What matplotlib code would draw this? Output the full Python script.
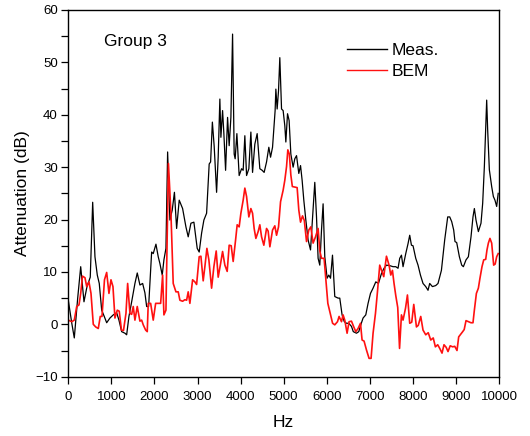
import matplotlib
matplotlib.use("Agg")
import matplotlib.pyplot as plt
from matplotlib.ticker import MultipleLocator

plt.rcParams['font.family'] = ['Liberation Sans', 'DejaVu Sans']

# ---- data ----
meas_hz = [0, 79, 139, 218, 288, 364, 434, 510, 566, 619, 673, 719, 775, 835, 891, 967,
           1044, 1123, 1176, 1239, 1315, 1355, 1408, 1471, 1547, 1601, 1663, 1726, 1779,
           1819, 1865, 1935, 1972, 2035, 2088, 2127, 2181, 2220, 2267, 2306, 2359, 2413,
           2464, 2515, 2575, 2654, 2731, 2784, 2847, 2916, 2993, 3039, 3095, 3148, 3211,
           3271, 3304, 3345, 3387, 3443, 3480, 3519, 3543, 3582, 3612, 3652, 3698, 3735,
           3775, 3814, 3851, 3874, 3914, 3967, 4023, 4060, 4099, 4139, 4192, 4239, 4278,
           4331, 4385, 4447, 4501, 4547, 4603, 4656, 4696, 4742, 4802, 4819, 4849, 4881,
           4911, 4951, 4988, 5027, 5051, 5090, 5127, 5167, 5220, 5259, 5299, 5352, 5392,
           5429, 5468, 5515, 5568, 5624, 5670, 5723, 5763, 5800, 5839, 5879, 5916, 5955,
           6009, 6048, 6088, 6134, 6187, 6264, 6303, 6357, 6408, 6459, 6512, 6575, 6617,
           6691, 6744, 6791, 6844, 6907, 6960, 7016, 7076, 7139, 7201, 7271, 7331, 7387,
           7463, 7540, 7603, 7656, 7695, 7735, 7772, 7835, 7888, 7927, 7967, 8004, 8067,
           8120, 8176, 8236, 8299, 8352, 8391, 8454, 8531, 8584, 8663, 8739, 8809, 8856,
           8902, 8948, 8978, 9018, 9080, 9134, 9173, 9234, 9289, 9350, 9396, 9428, 9466,
           9521, 9582, 9621, 9660, 9714, 9737, 9776, 9830, 9869, 9906, 9946, 9981]
meas_db = [4.6, 0.3, -2.6, 5.0, 11.0, 4.3, 7.2, 9.0, 23.3, 12.9, 9.4, 7.8, 2.7, 1.5, 0.3, 1.2,
           1.8, 2.2, 0.8, -1.4, -1.7, -2.0, 1.5, 4.3, 7.8, 9.8, 7.5, 7.8, 6.0,
           3.4, 3.4, 13.8, 13.5, 15.3, 12.9, 11.6, 9.4, 12.3, 14.5, 32.9, 19.9, 21.8,
           25.2, 18.3, 23.7, 22.1, 18.6, 16.7, 19.3, 19.5, 14.5, 13.8, 17.4, 19.9, 21.2,
           30.6, 31.0, 38.6, 34.0, 25.2, 31.9, 43.0, 35.7, 40.8, 36.4, 29.4, 39.5, 34.1,
           39.5, 55.4, 32.5, 31.6, 36.4, 28.4, 29.7, 29.4, 36.0, 28.4, 29.7, 36.7, 29.0,
           34.4, 36.4, 29.7, 29.4, 29.0, 31.0, 33.8, 31.9, 33.8, 40.8, 44.9, 41.1, 44.6,
           50.9, 41.1, 40.8, 37.9, 34.8, 40.2, 38.9, 32.5, 30.0, 31.6, 32.2, 28.8, 30.3,
           27.5, 23.7, 19.9, 16.1, 14.2, 20.2, 27.1, 20.5, 12.6, 11.3, 18.0, 23.0, 12.9,
           8.8, 9.4, 8.8, 13.2, 5.3, 5.0, 5.0, 1.8, 0.5, 0.2, 0.2, -0.4, -1.4,
           -1.7, -1.4, -0.1, 1.2, 1.8, 4.0, 5.9, 6.9, 8.1, 7.8, 9.7, 10.7, 11.3,
           11.2, 11.0, 11.0, 10.7, 12.6, 13.2, 11.0, 13.5, 15.4, 17.0, 15.1, 15.0, 12.6,
           11.3, 9.4, 7.8, 7.2, 6.5, 7.8, 7.2, 7.4, 7.8, 10.3, 16.1, 20.5, 20.5,
           19.6, 18.0, 15.8, 15.6, 12.9, 11.3, 11.0, 12.3, 12.9, 16.7, 20.5, 22.1, 19.9,
           17.7, 19.3, 23.1, 30.1, 42.8, 37.1, 29.5, 26.3, 24.4, 23.7, 22.5, 25.0]

bem_hz = [0, 79, 139, 195, 248, 288, 329, 387, 427, 480, 527, 580, 636, 696, 742, 782,
          840, 891, 944, 991, 1037, 1083, 1137, 1183, 1234, 1281, 1339, 1378, 1431, 1471,
          1508, 1547, 1601, 1663, 1703, 1740, 1796, 1833, 1856, 1912, 1972, 2028, 2088,
          2144, 2190, 2220, 2267, 2297, 2325, 2383, 2436, 2499, 2552, 2591, 2654, 2707,
          2747, 2784, 2823, 2886, 2939, 2979, 3039, 3079, 3132, 3171, 3218, 3264, 3327,
          3380, 3434, 3480, 3536, 3582, 3635, 3689, 3735, 3782, 3828, 3884, 3921, 3967,
          4007, 4060, 4099, 4139, 4192, 4239, 4278, 4315, 4355, 4408, 4447, 4487, 4540,
          4603, 4640, 4680, 4742, 4795, 4835, 4881, 4928, 4988, 5027, 5067, 5097, 5132,
          5167, 5202, 5260, 5313, 5352, 5392, 5438, 5480, 5531, 5584, 5631, 5684, 5740,
          5800, 5839, 5879, 5939, 5979, 6026, 6078, 6136, 6187, 6250, 6287, 6343, 6380,
          6419, 6473, 6519, 6575, 6628, 6675, 6728, 6784, 6821, 6867, 6923, 6983, 7030,
          7076, 7132, 7178, 7231, 7278, 7324, 7387, 7447, 7487, 7526, 7563, 7603, 7649,
          7691, 7735, 7772, 7830, 7874, 7927, 7974, 8021, 8083, 8125, 8183, 8236, 8299,
          8357, 8415, 8473, 8523, 8577, 8624, 8677, 8723, 8774, 8816, 8867, 8925, 8972,
          9025, 9064, 9111, 9157, 9192, 9234, 9289, 9350, 9396, 9428, 9475, 9521, 9558,
          9605, 9645, 9691, 9721, 9753, 9790, 9830, 9876, 9911, 9946, 9981]
bem_db = [0.8, 0.5, 0.8, 3.4, 3.7, 5.9, 9.2, 8.9, 7.2, 8.1, 5.9, 0.0, -0.5, -0.8, 1.5, 1.5,
          8.5, 9.9, 5.9, 8.5, 7.2, 1.2, 2.7, 2.5, -1.1, -1.2, 2.1, 7.8, 2.1, 1.9,
          3.4, 0.8, 3.4, 0.6, 0.8, -0.1, -1.1, -1.4, 4.0, 4.0, 0.8, 4.0, 4.0,
          4.0, 9.4, 1.8, 2.7, 17.4, 30.7, 21.2, 7.8, 6.2, 6.2, 4.6, 4.4, 4.7,
          4.6, 6.2, 4.0, 8.5, 8.1, 7.6, 12.9, 13.0, 8.3, 11.0, 14.5, 12.3, 6.9,
          11.0, 14.0, 9.0, 11.6, 13.9, 11.3, 10.1, 15.1, 15.0, 12.0, 16.1, 19.0, 18.6,
          21.2, 23.7, 26.0, 24.4, 20.5, 22.1, 21.2, 18.3, 16.4, 17.7, 19.0, 16.7, 15.1,
          18.3, 17.8, 14.8, 18.0, 18.8, 17.0, 18.6, 23.4, 25.6, 27.5, 30.1, 33.3, 32.5,
          28.5, 26.3, 26.2, 26.1, 21.8, 19.5, 20.7, 19.8, 15.8, 18.0, 18.6, 15.5, 16.7,
          18.3, 14.0, 12.6, 12.6, 8.6, 4.0, 2.2, 0.2, -0.1, 0.5, 1.5, 0.5, 1.8,
          0.8, -1.7, 0.5, 0.6, -0.5, -1.4, -0.8, 0.2, -3.0, -3.2, -4.9, -6.5, -6.5,
          -1.7, 2.1, 6.2, 11.3, 10.2, 9.1, 13.0, 11.3, 9.4, 10.3, 7.8, 5.5, 3.2,
          -4.6, 1.8, 0.8, 3.1, 5.6, 0.2, 0.4, 3.8, -0.5, -0.2, 1.5, -1.1, -2.0,
          -1.6, -3.0, -2.6, -4.3, -3.9, -4.6, -5.5, -3.9, -4.4, -5.2, -4.1, -4.3, -4.2,
          -5.0, -2.4, -1.9, -1.4, -1.0, 0.7, 0.5, 0.3, 0.3, 2.7, 5.9, 6.9, 8.8,
          11.0, 12.3, 12.4, 14.2, 15.5, 16.4, 15.5, 11.3, 11.5, 12.9, 13.5]

series_labels = ["Meas.", "BEM"]
title_text = "Group 3"
x_label = "Hz"
y_label = "Attenuation (dB)"

# ---- figure ----
fig = plt.figure(figsize=(5.30, 4.36), dpi=100)
ax = fig.add_axes([68.3 / 530, 1 - 376.7 / 436, (499 - 68.3) / 530, (376.7 - 10) / 436])

ax.plot(meas_hz, meas_db, color='black', lw=0.9, label=series_labels[0])
ax.plot(bem_hz, bem_db, color='#ff1010', lw=1.2, label=series_labels[1])

ax.set_xlim(0, 10000)
ax.set_ylim(-10, 60)
ax.xaxis.set_major_locator(MultipleLocator(1000))
ax.yaxis.set_major_locator(MultipleLocator(10))
ax.yaxis.set_minor_locator(MultipleLocator(5))
ax.tick_params(which='both', direction='out', width=0.9, labelsize=9.5, top=False, right=False)
ax.tick_params(which='major', length=5)
ax.tick_params(which='minor', length=5)
ax.tick_params(axis='y', which='major', pad=2.5)
ax.tick_params(axis='x', which='major', pad=5)
for s in ax.spines.values():
    s.set_linewidth(1.0)

ax.set_xlabel(x_label, fontsize=12.5, labelpad=9)
ax.set_ylabel(y_label, fontsize=12.5, labelpad=4)

ax.text(0.083, 0.915, title_text, transform=ax.transAxes, fontsize=12.5, va='center', ha='left')

leg = ax.legend(loc='upper left', bbox_to_anchor=(0.647, 0.911), frameon=False,
                fontsize=12.5, handlelength=2.3, handletextpad=0.3, labelspacing=0.35,
                borderpad=0, borderaxespad=0)
for line in leg.get_lines():
    line.set_linewidth(1.0)

fig.savefig("out.png", dpi=100)
